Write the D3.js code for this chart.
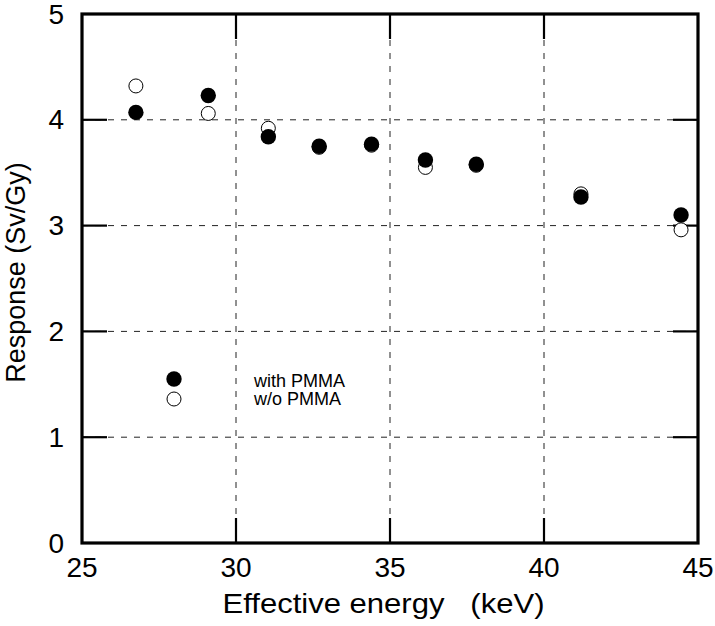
<!DOCTYPE html>
<html>
<head>
<meta charset="utf-8">
<script src="https://cdn.jsdelivr.net/npm/d3@7"></script>
<style>
  html, body { margin: 0; padding: 0; background: #fff; }
  svg { display: block; font-family: "Liberation Sans", Arial, Helvetica, sans-serif; }
</style>
</head>
<body>
<svg id="chart" width="715" height="626"></svg>
<script>
// ---- data ----
const energy      = [26.75, 29.1, 31.05, 32.7, 34.4, 36.15, 37.8, 41.2, 44.45];
const withPMMA    = [4.07, 4.23, 3.84, 3.75, 3.77, 3.62, 3.58, 3.27, 3.10];
const withoutPMMA = [4.32, 4.06, 3.92, 3.74, 3.76, 3.55, 3.57, 3.30, 2.96];
const xTicks = [25, 30, 35, 40, 45];
const yTicks = [0, 1, 2, 3, 4, 5];
const seriesNames = ["with PMMA", "w/o PMMA"];
const xTitle = "Effective energy\u00a0\u00a0\u00a0(keV)";
const yTitle = "Response (Sv/Gy)";

// ---- layout ----
const W = 715, H = 626;
const m = { left: 82, right: 17, top: 14, bottom: 83 };
const pw = W - m.left - m.right, ph = H - m.top - m.bottom;

const svg = d3.select("#chart");
const g = svg.append("g").attr("transform", `translate(${m.left},${m.top})`);

const x = d3.scaleLinear().domain([25, 45]).range([0, pw]);
const y = d3.scaleLinear().domain([0, 5]).range([ph, 0]);

// dashed grid
const gridX = xTicks.filter(v => v > 25 && v < 45);
const gridY = yTicks.filter(v => v > 0 && v < 5);
g.selectAll(".gx").data(gridX).enter().append("line")
  .attr("x1", d => x(d)).attr("x2", d => x(d))
  .attr("y1", 0).attr("y2", ph)
  .attr("stroke", "#222").attr("stroke-width", 1).attr("stroke-dasharray", "6,7");
g.selectAll(".gy").data(gridY).enter().append("line")
  .attr("y1", d => y(d)).attr("y2", d => y(d))
  .attr("x1", 0).attr("x2", pw)
  .attr("stroke", "#222").attr("stroke-width", 1).attr("stroke-dasharray", "6,7");

// inner solid ticks on all four sides
const tl = 25;
const tickStyle = s => s.attr("stroke", "#000").attr("stroke-width", 2.2);
g.selectAll(".tb").data(gridX).enter().append("line")
  .attr("x1", d => x(d)).attr("x2", d => x(d)).attr("y1", ph).attr("y2", ph - tl).call(tickStyle);
g.selectAll(".tt").data(gridX).enter().append("line")
  .attr("x1", d => x(d)).attr("x2", d => x(d)).attr("y1", 0).attr("y2", tl).call(tickStyle);
g.selectAll(".tl").data(gridY).enter().append("line")
  .attr("y1", d => y(d)).attr("y2", d => y(d)).attr("x1", 0).attr("x2", tl).call(tickStyle);
g.selectAll(".tr").data(gridY).enter().append("line")
  .attr("y1", d => y(d)).attr("y2", d => y(d)).attr("x1", pw).attr("x2", pw - tl).call(tickStyle);

// frame
g.append("rect").attr("x", 0).attr("y", 0).attr("width", pw).attr("height", ph)
  .attr("fill", "none").attr("stroke", "#000").attr("stroke-width", 3.2);

// tick labels
g.selectAll(".xl").data(xTicks).enter().append("text")
  .attr("x", d => x(d)).attr("y", ph + 34)
  .attr("text-anchor", "middle").attr("font-size", 28).attr("fill", "#000")
  .text(d => d);
g.selectAll(".yl").data(yTicks).enter().append("text")
  .attr("x", -18).attr("y", d => y(d) + 9.5)
  .attr("text-anchor", "end").attr("font-size", 28).attr("fill", "#000")
  .text(d => d);

// axis titles
g.append("text")
  .attr("x", 383.5 - m.left).attr("y", ph + 70)
  .attr("text-anchor", "middle").attr("font-size", 28).attr("fill", "#000")
  .attr("textLength", 322).attr("lengthAdjust", "spacingAndGlyphs")
  .text(xTitle);
svg.append("text")
  .attr("transform", `translate(25,${m.top + ph / 2 - 6}) rotate(-90)`)
  .attr("text-anchor", "middle").attr("font-size", 27).attr("fill", "#000")
  .text(yTitle);

// points: open first, filled on top
const rOpen = 7, rFill = 7.7;
g.selectAll(".po").data(energy.map((e, i) => [e, withoutPMMA[i]])).enter().append("circle")
  .attr("cx", d => x(d[0])).attr("cy", d => y(d[1])).attr("r", rOpen)
  .attr("fill", "#fff").attr("stroke", "#000").attr("stroke-width", 1);
g.selectAll(".pf").data(energy.map((e, i) => [e, withPMMA[i]])).enter().append("circle")
  .attr("cx", d => x(d[0])).attr("cy", d => y(d[1])).attr("r", rFill)
  .attr("fill", "#000");

// legend
const leg = svg.append("g");
leg.append("circle").attr("cx", 174).attr("cy", 379).attr("r", rFill).attr("fill", "#000");
leg.append("circle").attr("cx", 174).attr("cy", 399).attr("r", rOpen)
  .attr("fill", "#fff").attr("stroke", "#000").attr("stroke-width", 1);
leg.append("text").attr("x", 254).attr("y", 387).attr("font-size", 18).attr("fill", "#000").text(seriesNames[0]);
leg.append("text").attr("x", 254).attr("y", 405).attr("font-size", 18).attr("fill", "#000").text(seriesNames[1]);
</script>
</body>
</html>
